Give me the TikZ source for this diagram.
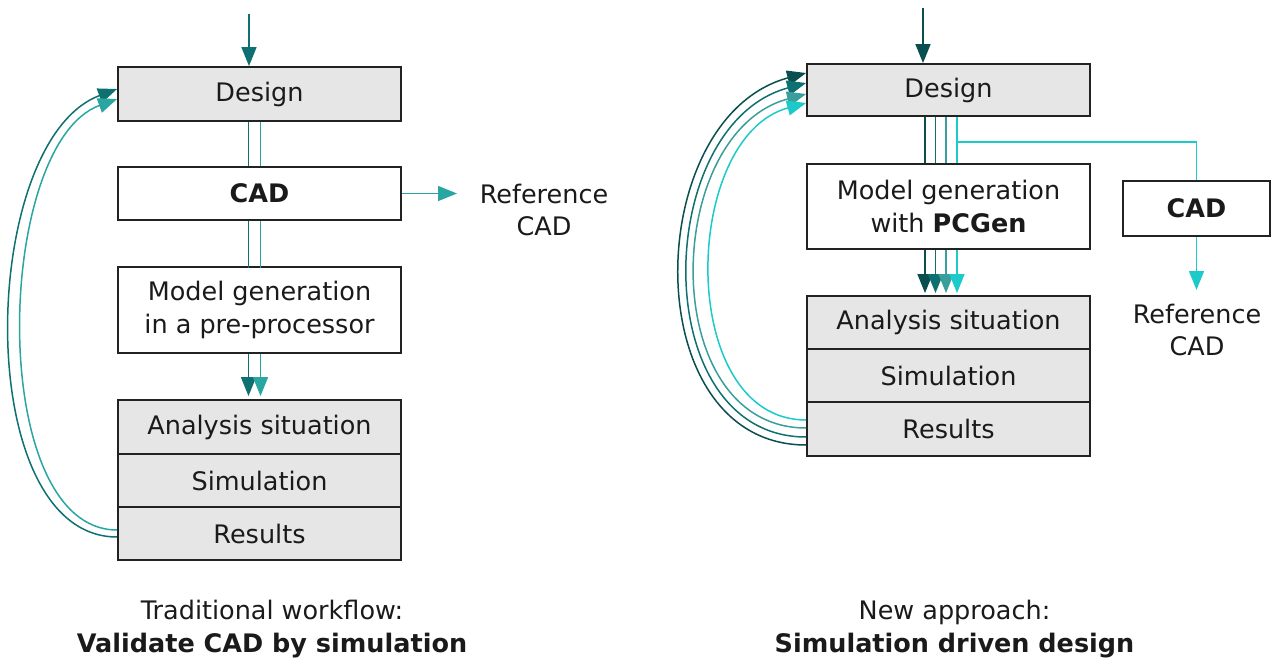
\documentclass[tikz,border=0pt]{standalone}
\usepackage{fontspec}
\setmainfont{DejaVu Sans}
\usetikzlibrary{arrows.meta,calc}
\definecolor{tA}{HTML}{0A4F50}
\definecolor{tB}{HTML}{0E7070}
\definecolor{tC}{HTML}{3A9E9C}
\definecolor{tD}{HTML}{1CCACA}
\definecolor{tL}{HTML}{2AA6A2}
\definecolor{boxgray}{HTML}{E6E6E6}
\definecolor{boxline}{HTML}{222222}
\definecolor{txt}{HTML}{1A1A1A}
\begin{document}
\begin{tikzpicture}[x=1pt,y=-1pt,
 every node/.style={font=\fontsize{25.5}{32.5}\selectfont, text=txt},
 box/.style={draw=boxline, line width=1.8pt, minimum width=283pt, inner sep=0pt, align=center, fill=white},
 grey/.style={box, fill=boxgray},
 conn/.style={line width=1.5pt},
 tip/.style={-{Triangle[length=19pt,width=15pt]}},
 lbl/.style={align=center, inner sep=0pt}]
\useasboundingbox (0,0) rectangle (1275,661);

% ---------- left diagram ----------
\node[grey, minimum height=54pt] (dL) at (259.5,94) {Design};
\node[box, minimum height=53pt] (cL) at (259.5,193.5) {\textbf{CAD}};
\node[box, minimum height=86pt] (mL) at (259.5,310) {Model generation\\in a pre-processor};
\node[grey, minimum height=54pt] (aL) at (259.5,427) {Analysis situation};
\node[grey, minimum height=53pt] (sL) at (259.5,480.5) {Simulation};
\node[grey, minimum height=53pt] (rL) at (259.5,533.5) {Results};
\node[lbl] (refL) at (544,210) {Reference\\CAD};
\coordinate (inL) at (249,14);
\coordinate (refLend) at (457,193.5);

\draw[conn,tB,tip] (inL) -- (inL |- dL.north);
\draw[conn,tB] ($(dL.south)+(-11,0)$) -- ($(cL.north)+(-11,0)$);
\draw[conn,tL] ($(dL.south)+(1,0)$) -- ($(cL.north)+(1,0)$);
\draw[conn,tB] ($(cL.south)+(-11,0)$) -- ($(mL.south)+(-11,-86)$);
\draw[conn,tL] ($(cL.south)+(1,0)$) -- ($(mL.south)+(1,-86)$);
\draw[conn,tB,tip] ($(mL.south)+(-11,0)$) -- ($(aL.north)+(-11,-3)$);
\draw[conn,tL,tip] ($(mL.south)+(1,0)$) -- ($(aL.north)+(1,-3)$);
\draw[conn,tL,tip] (cL.east) -- (refLend);

\draw[conn,tB,tip] ($(rL.west)+(0,3.5)$) .. controls (-30,537) and (-22,141) .. ($(dL.west)+(0,-5)$);
\draw[conn,tL,tip] ($(rL.west)+(0,-3.5)$) .. controls (-14,530) and (-6,144) .. ($(dL.west)+(0,5)$);

\node[lbl] (capL) at (272,629) {Traditional workflow:\\\textbf{Validate CAD by simulation}};

% ---------- right diagram ----------
\node[grey, minimum height=52pt] (dR) at (948.5,90) {Design};
\node[box, minimum height=85pt] (mR) at (948.5,206.5) {Model generation\\with \textbf{PCGen}};
\node[grey, minimum height=53pt] (aR) at (948.5,322.5) {Analysis situation};
\node[grey, minimum height=53pt] (sR) at (948.5,375.5) {Simulation};
\node[grey, minimum height=54pt] (rR) at (948.5,429) {Results};
\node[box, minimum width=147pt, minimum height=55pt] (cR) at (1196.5,208.5) {\textbf{CAD}};
\node[lbl] (refR) at (1197,330) {Reference\\CAD};
\coordinate (inR) at (923,8);
\coordinate (refRend) at (1196.5,290);

\draw[conn,tA,tip] (inR) -- (inR |- dR.north);
\draw[conn,tA] ($(dR.south)+(-23.5,0)$) -- ($(mR.north)+(-23.5,0)$);
\draw[conn,tB] ($(dR.south)+(-13,0)$) -- ($(mR.north)+(-13,0)$);
\draw[conn,tC] ($(dR.south)+(-2.5,0)$) -- ($(mR.north)+(-2.5,0)$);
\draw[conn,tD] ($(dR.south)+(8.5,0)$) -- ($(mR.north)+(8.5,0)$);
\draw[conn,tD] ($(dR.south)+(8.5,25)$) -| (cR.north);
\draw[conn,tD,tip] (cR.south) -- (refRend);

\draw[conn,tA,tip] ($(mR.south)+(-23.5,0)$) -- ($(aR.north)+(-23.5,-2)$);
\draw[conn,tB,tip] ($(mR.south)+(-13,0)$) -- ($(aR.north)+(-13,-2)$);
\draw[conn,tC,tip] ($(mR.south)+(-2.5,0)$) -- ($(aR.north)+(-2.5,-2)$);
\draw[conn,tD,tip] ($(mR.south)+(8.5,0)$) -- ($(aR.north)+(8.5,-2)$);

\draw[conn,tA,tip] ($(rR.west)+(0,16)$) .. controls (635,445) and (641,117.5) .. ($(dR.west)+(0,-17)$);
\draw[conn,tB,tip] ($(rR.west)+(0,8)$) .. controls (646,437) and (651.5,124.7) .. ($(dR.west)+(0,-7)$);
\draw[conn,tC,tip] ($(rR.west)+(0,-1)$) .. controls (656,428) and (661,133) .. ($(dR.west)+(0,4)$);
\draw[conn,tD,tip] ($(rR.west)+(0,-9)$) .. controls (676,420) and (680.5,137) .. ($(dR.west)+(0,13)$);

\node[lbl] (capR) at (954.5,629) {New approach:\\\textbf{Simulation driven design}};
\end{tikzpicture}
\end{document}
